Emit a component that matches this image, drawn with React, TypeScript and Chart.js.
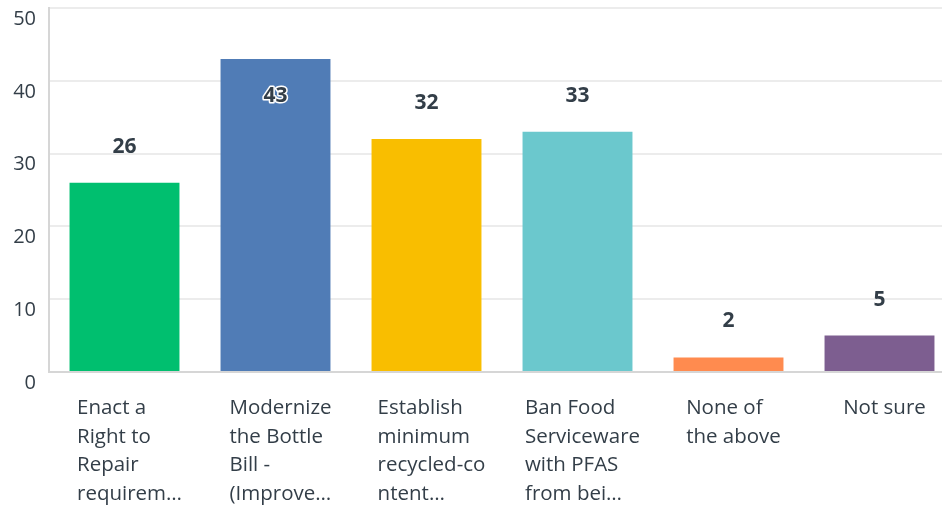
import React, { useEffect, useRef } from "react";
import { Chart, registerables } from "chart.js";

Chart.register(...registerables);

const categories: string[][] = [
  ["Enact a", "Right to", "Repair", "requirem…"],
  ["Modernize", "the Bottle", "Bill -", "(Improve…"],
  ["Establish", "minimum", "recycled-co", "ntent…"],
  ["Ban Food", "Serviceware", "with PFAS", "from bei…"],
  ["None of", "the above"],
  ["Not sure"],
];
const values: number[] = [26, 43, 32, 33, 2, 5];
const barColors: string[] = ["#00BF6F", "#507CB6", "#F9BE00", "#6BC8CD", "#FF8B4F", "#7D5E90"];
const yTicks: number[] = [0, 10, 20, 30, 40, 50];

const TEXT = "#333E48";
const FONT = "'Open Sans', 'Noto Sans', sans-serif";

const valueLabels = {
  id: "valueLabels",
  afterDatasetsDraw(chart: any) {
    const { ctx, chartArea } = chart;
    const meta = chart.getDatasetMeta(0);
    ctx.save();
    ctx.font = `bold 21px ${FONT}`;
    ctx.textAlign = "center";
    ctx.textBaseline = "middle";
    meta.data.forEach((bar: any, i: number) => {
      const v = chart.data.datasets[0].data[i];
      let y = bar.y - 36;
      let inside = false;
      if (y < chartArea.top + 30) {
        y = bar.y + 37;
        inside = true;
      }
      if (inside) {
        ctx.lineWidth = 3;
        ctx.strokeStyle = "#ffffff";
        ctx.lineJoin = "round";
        ctx.strokeText(String(v), bar.x, y);
      }
      ctx.fillStyle = TEXT;
      ctx.fillText(String(v), bar.x, y);
    });
    ctx.restore();
  },
};

// Category labels: block centred under the tick, lines left-aligned within the block
const categoryLabels = {
  id: "categoryLabels",
  afterDraw(chart: any) {
    const { ctx } = chart;
    const xs = chart.scales.x;
    ctx.save();
    ctx.font = `20.5px ${FONT}`;
    ctx.fillStyle = TEXT;
    ctx.textAlign = "left";
    ctx.textBaseline = "middle";
    (chart.data.labels as string[][]).forEach((lines, i) => {
      const cx = xs.getPixelForTick(i) + 5;
      const w = Math.max(...lines.map((l) => ctx.measureText(l).width));
      const left = cx - w / 2;
      lines.forEach((l, j) => {
        ctx.fillText(l, left, xs.top + 36 + j * 28.8);
      });
    });
    ctx.restore();
  },
};

export default function App() {
  const ref = useRef<HTMLCanvasElement | null>(null);
  useEffect(() => {
    if (!ref.current) return;
    const chart = new Chart(ref.current, {
      type: "bar",
      data: {
        labels: categories,
        datasets: [
          {
            data: values,
            backgroundColor: barColors,
            borderWidth: 0,
            barPercentage: 1,
            categoryPercentage: 0.728,
          },
        ],
      },
      options: {
        animation: false,
        responsive: true,
        maintainAspectRatio: false,
        layout: { padding: { top: 8, right: 3, bottom: 0, left: 0 } },
        plugins: { legend: { display: false }, tooltip: { enabled: false } },
        scales: {
          x: {
            grid: { display: false, drawTicks: false },
            border: { display: true, color: "#d6d6d6", width: 2 },
            ticks: { display: false, autoSkip: false, maxRotation: 0 },
            afterFit: (s: any) => {
              s.height = 136;
              s.paddingLeft = 0;
              s.paddingRight = 0;
            },
          },
          y: {
            min: 0,
            max: 50,
            afterBuildTicks: (s: any) => {
              s.ticks = yTicks.map((v) => ({ value: v }));
            },
            grid: { color: "#ececec", lineWidth: 2, drawTicks: false },
            border: { display: true, color: "#d6d6d6", width: 2 },
            ticks: {
              padding: 13,
              labelOffset: 11,
              color: TEXT,
              font: { family: FONT, size: 20 },
            },
            afterFit: (s: any) => {
              s.width = 49;
              s.paddingTop = 0;
              s.paddingBottom = 0;
            },
          },
        },
      },
      plugins: [valueLabels, categoryLabels],
    });
    return () => chart.destroy();
  }, []);
  return (
    <div style={{ position: "fixed", left: 0, top: 0, width: 942, height: 508, overflow: "hidden", background: "#fff" }}>
      <div style={{ position: "relative", width: 958, height: 508 }}>
        <canvas ref={ref} />
      </div>
    </div>
  );
}
